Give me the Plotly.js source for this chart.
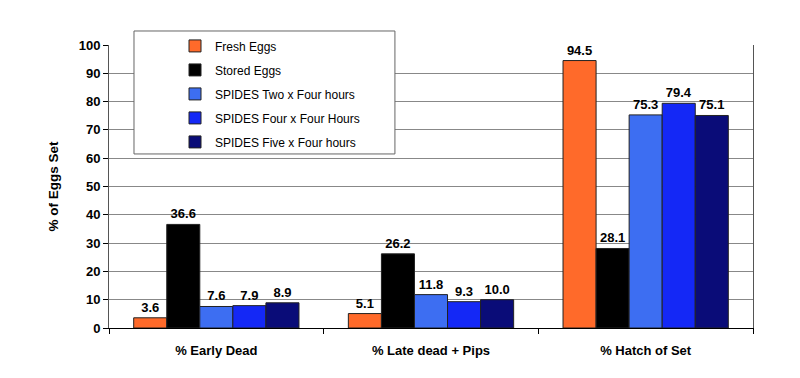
<!DOCTYPE html>
<html>
<head>
<meta charset="utf-8">
<script src="https://cdn.plot.ly/plotly-3.0.1.min.js"></script>
<style>html,body{margin:0;padding:0;background:#fff;}#chart{width:800px;height:378px;}</style>
</head>
<body>
<div id="chart"></div>
<script>
var categories = ["% Early Dead", "% Late dead + Pips", "% Hatch of Set"];
var seriesNames = ["Fresh Eggs", "Stored Eggs", "SPIDES Two x Four hours", "SPIDES Four x Four Hours", "SPIDES Five x Four hours"];
var freshEggs = [3.6, 5.1, 94.5];
var storedEggs = [36.6, 26.2, 28.1];
var spidesTwo = [7.6, 11.8, 75.3];
var spidesFour = [7.9, 9.3, 79.4];
var spidesFive = [8.9, 10.0, 75.1];
var yTicks = [0, 10, 20, 30, 40, 50, 60, 70, 80, 90, 100];

var seriesValues = [freshEggs, storedEggs, spidesTwo, spidesFour, spidesFive];
var colors = ["#FF6A2A", "#000000", "#3D6EF2", "#1428F6", "#0A0C78"];

var traces = seriesValues.map(function (vals, i) {
  return {
    type: "bar",
    name: seriesNames[i],
    x: categories,
    y: vals,
    legendgroup: "g" + i,
    marker: { color: colors[i], line: { color: "#222", width: 1 } },
    texttemplate: "<b>%{y:.1f}</b>",
    textposition: "outside",
    cliponaxis: false,
    textfont: { family: "Liberation Sans, Arial, sans-serif", size: 13, color: "#000" },
    hoverinfo: "none"
  };
});

var layout = {
  width: 800,
  height: 378,
  margin: { l: 109, r: 47, t: 45, b: 50 },
  paper_bgcolor: "#fff",
  plot_bgcolor: "#fff",
  barmode: "group",
  bargap: 0.23,
  bargroupgap: 0,
  font: { family: "Liberation Sans, Arial, sans-serif", color: "#000" },
  showlegend: true,
  legend: {
    x: 0.1025, xanchor: "left",
    y: 1.048, yanchor: "top",
    bgcolor: "rgba(0,0,0,0)",
    borderwidth: 0,
    font: { size: 12, color: "#000" },
    traceorder: "grouped",
    tracegroupgap: 5
  },
  xaxis: {
    type: "category",
    tickson: "boundaries",
    ticks: "outside",
    ticklen: 5,
    tickcolor: "#000",
    showline: true,
    linecolor: "#000",
    linewidth: 1,
    ticklabelstandoff: 10,
    tickfont: { size: 13, weight: "bold" },
    showgrid: false
  },
  yaxis: {
    range: [0, 100],
    tickvals: yTicks,
    ticktext: yTicks.map(String),
    ticks: "outside",
    ticklen: 5,
    tickcolor: "#000",
    showline: true,
    mirror: true,
    linecolor: "#555",
    linewidth: 1,
    showgrid: true,
    gridcolor: "#888",
    gridwidth: 1,
    zeroline: false,
    tickfont: { size: 13, weight: "bold" },
    title: { text: "<b>% of Eggs Set</b>", font: { size: 13.5 }, standoff: 16 }
  },
  shapes: [{
    type: "rect", xref: "paper", yref: "paper",
    x0: 0.0388, x1: 0.444, y0: 0.615, y1: 1.0495,
    fillcolor: "#fff", line: { color: "#666", width: 1 }, layer: "above"
  }]
};

Plotly.newPlot("chart", traces, layout, { displayModeBar: false, staticPlot: true });
</script>
</body>
</html>
